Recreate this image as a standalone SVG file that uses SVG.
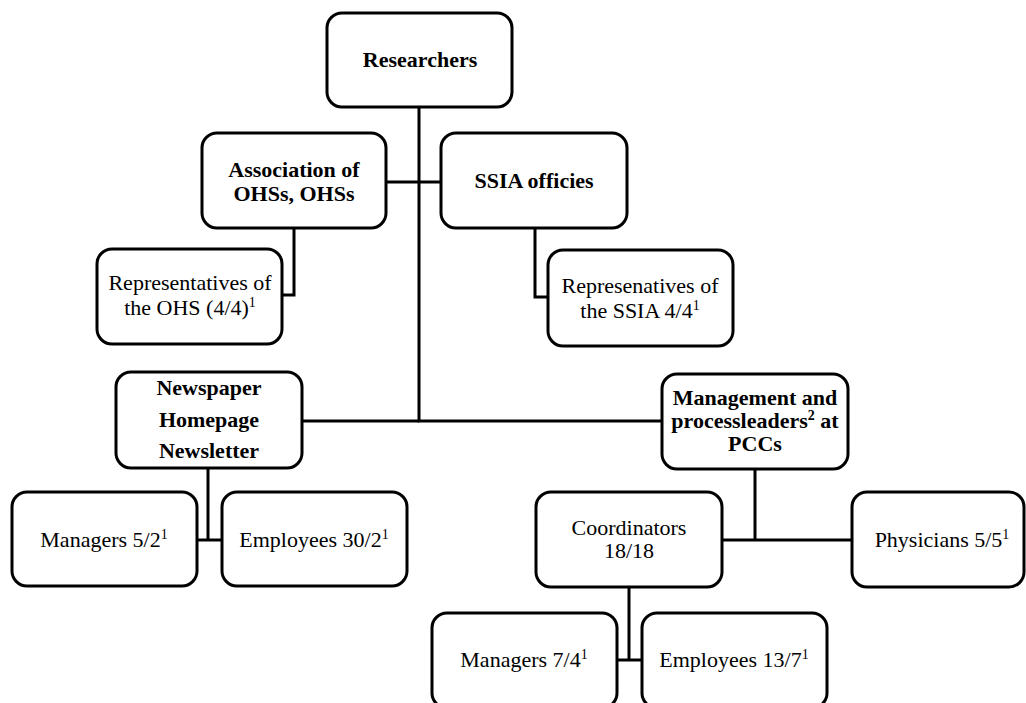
<svg xmlns="http://www.w3.org/2000/svg" width="1026" height="703" viewBox="0 0 1026 703">
<style>
.box{fill:#fff;stroke:#000;stroke-width:3}
.ln{fill:none;stroke:#000;stroke-width:3}
.b{font-family:"Liberation Serif","Times New Roman",serif;font-weight:bold;font-size:22px;text-anchor:middle;fill:#000}
.r{font-family:"Liberation Serif","Times New Roman",serif;font-size:22px;text-anchor:middle;fill:#000}
.sup{font-size:14px}
</style>
<rect x="0" y="0" width="1026" height="703" fill="#fff"/>
<g id="connectors">
<path class="ln" d="M419,107 V421 H662"/>
<path class="ln" d="M302,421 H419"/>
<path class="ln" d="M386,182 H441"/>
<path class="ln" d="M294,228 V295 H282"/>
<path class="ln" d="M535,228 V297 H548"/>
<path class="ln" d="M208,468 V540"/>
<path class="ln" d="M197,540 H222"/>
<path class="ln" d="M755,469 V540"/>
<path class="ln" d="M722,540 H852"/>
<path class="ln" d="M629,587 V660"/>
<path class="ln" d="M617,660 H642"/>
</g>
<g id="researchers">
<rect class="box" x="327" y="13" width="185" height="94" rx="15"/>
<text class="b" x="420" y="67">Researchers</text>
</g>
<g id="association">
<rect class="box" x="202" y="133" width="184" height="95" rx="15"/>
<text class="b" x="294" y="177">Association of</text>
<text class="b" x="294" y="201">OHSs, OHSs</text>
</g>
<g id="ssia">
<rect class="box" x="441" y="133" width="186" height="95" rx="15"/>
<text class="b" x="534" y="188">SSIA officies</text>
</g>
<g id="rep-ohs">
<rect class="box" x="97" y="249" width="185" height="95" rx="15"/>
<text class="r" x="190" y="290">Representatives of</text>
<text class="r" x="190" y="315">the OHS (4/4)<tspan class="sup" dy="-8">1</tspan></text>
</g>
<g id="rep-ssia">
<rect class="box" x="548" y="250" width="185" height="96" rx="15"/>
<text class="r" x="640" y="293">Represenatives of</text>
<text class="r" x="640" y="318">the SSIA 4/4<tspan class="sup" dy="-8">1</tspan></text>
</g>
<g id="newspaper">
<rect class="box" x="116" y="372" width="186" height="96" rx="15"/>
<text class="b" x="209" y="395">Newspaper</text>
<text class="b" x="209" y="427">Homepage</text>
<text class="b" x="209" y="458">Newsletter</text>
</g>
<g id="management">
<rect class="box" x="662" y="374" width="186" height="95" rx="15"/>
<text class="b" x="755" y="405">Management and</text>
<text class="b" x="755" y="428">processleaders<tspan class="sup" dy="-8">2</tspan><tspan dy="8"> at</tspan></text>
<text class="b" x="755" y="451">PCCs</text>
</g>
<g id="managers-52">
<rect class="box" x="12" y="492" width="185" height="94" rx="15"/>
<text class="r" x="104" y="547">Managers 5/2<tspan class="sup" dy="-8">1</tspan></text>
</g>
<g id="employees-302">
<rect class="box" x="222" y="492" width="185" height="94" rx="15"/>
<text class="r" x="314" y="547">Employees 30/2<tspan class="sup" dy="-8">1</tspan></text>
</g>
<g id="coordinators">
<rect class="box" x="536" y="492" width="186" height="95" rx="15"/>
<text class="r" x="629" y="535">Coordinators</text>
<text class="r" x="629" y="558">18/18</text>
</g>
<g id="physicians">
<rect class="box" x="852" y="492" width="172" height="95" rx="15"/>
<text class="r" x="942" y="547">Physicians 5/5<tspan class="sup" dy="-8">1</tspan></text>
</g>
<g id="managers-74">
<rect class="box" x="432" y="613" width="185" height="95" rx="15"/>
<text class="r" x="524" y="667">Managers 7/4<tspan class="sup" dy="-8">1</tspan></text>
</g>
<g id="employees-137">
<rect class="box" x="642" y="613" width="185" height="95" rx="15"/>
<text class="r" x="734" y="667">Employees 13/7<tspan class="sup" dy="-8">1</tspan></text>
</g>
</svg>
